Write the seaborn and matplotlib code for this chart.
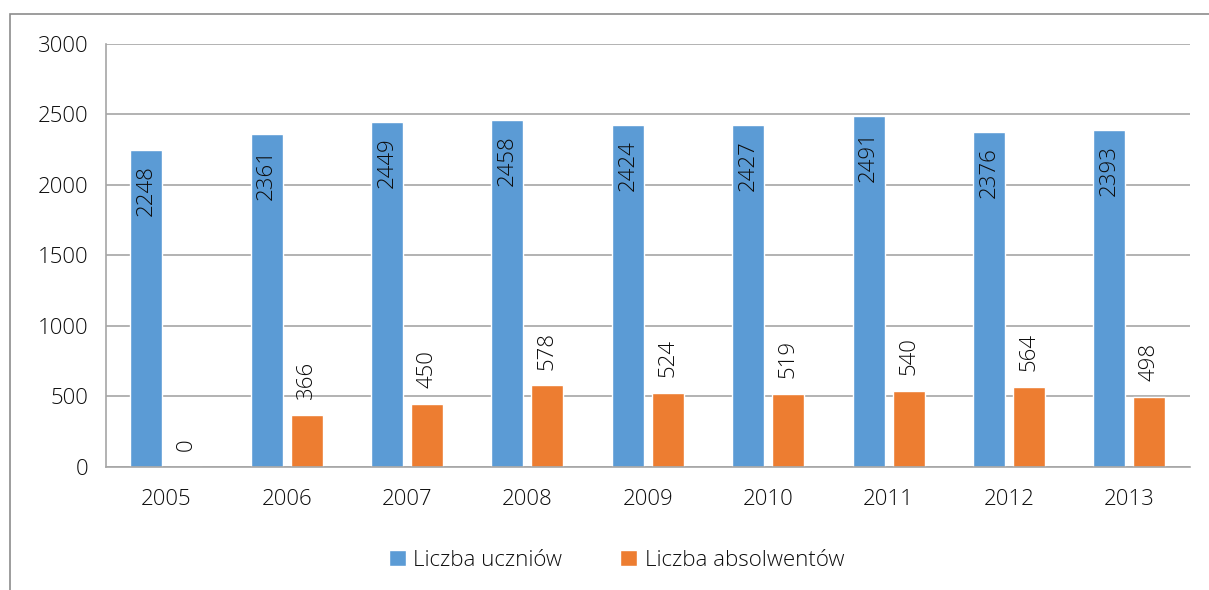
import pandas as pd
import numpy as np
import matplotlib.pyplot as plt
import seaborn as sns
from matplotlib.patches import Rectangle

years = ['2005', '2006', '2007', '2008', '2009', '2010', '2011', '2012', '2013']
uczniowie = [2248, 2361, 2449, 2458, 2424, 2427, 2491, 2376, 2393]
absolwenci = [0, 366, 450, 578, 524, 519, 540, 564, 498]
series = ['Liczba uczniów', 'Liczba absolwentów']
colors = ['#5B9BD5', '#ED7D31']

df = pd.DataFrame({
    'rok': years * 2,
    'wartosc': uczniowie + absolwenci,
    'seria': [series[0]] * len(years) + [series[1]] * len(years),
})

sns.set_style('white')
plt.rcParams['font.family'] = ['Open Sans', 'DejaVu Sans']
plt.rcParams['font.weight'] = 'light'
grid_col = '#A6A6A6'
text_col = '#0D0D0D'
fs = 16

fig = plt.figure(figsize=(12.09, 5.90), dpi=100)
ax = fig.add_axes([0.0877, 0.2085, 0.8963, 0.717])

sns.barplot(data=df, x='rok', y='wartosc', hue='seria', palette=colors,
            width=0.664, gap=0.2, ax=ax, legend=True, saturation=1)

ax.set_ylim(0, 3000)
ax.set_yticks(np.arange(0, 3001, 500))
ax.set_xlim(-0.5, len(years) - 0.5)
ax.set_xlabel('')
ax.set_ylabel('')
ax.yaxis.grid(True, color=grid_col, linewidth=1.2)
ax.set_axisbelow(True)
for side in ['top', 'right']:
    ax.spines[side].set_visible(False)
for side in ['left', 'bottom']:
    ax.spines[side].set_color(grid_col)
    ax.spines[side].set_linewidth(1.2)

ax.tick_params(axis='y', length=6.5, width=1.2, color=grid_col, pad=6,
               labelsize=fs, labelcolor=text_col)
ax.tick_params(axis='x', length=0, pad=16, labelsize=fs, labelcolor=text_col)

# data labels
blue_bars = ax.containers[0]
orange_bars = ax.containers[1]
for bar, v in zip(blue_bars, uczniowie):
    ax.annotate(str(v), (bar.get_x() + bar.get_width() / 2, v),
                xytext=(0, -11), textcoords='offset points',
                rotation=90, ha='center', va='top', fontsize=fs, color=text_col)
for bar, v in zip(orange_bars, absolwenci):
    ax.annotate(str(v), (bar.get_x() + bar.get_width() / 2, v),
                xytext=(0, 11.5), textcoords='offset points',
                rotation=90, ha='center', va='bottom', fontsize=fs, color=text_col)

ax.legend(loc='center', ncol=2, frameon=False, fontsize=fs,
          handlelength=0.75, handleheight=0.75,
          columnspacing=2.6, handletextpad=0.35, labelcolor=text_col)
leg = ax.get_legend()
leg.set_bbox_to_anchor((0.5 + 12 / 1209, 1 - 560 / 590), transform=fig.transFigure)

fig.patches.append(Rectangle((10 / 1209, -0.1), 1.2, 1 - 14 / 590 + 0.1,
                             transform=fig.transFigure, fill=False,
                             edgecolor='#8C8C8C', linewidth=1.2))

fig.savefig('out.png', dpi=100)
